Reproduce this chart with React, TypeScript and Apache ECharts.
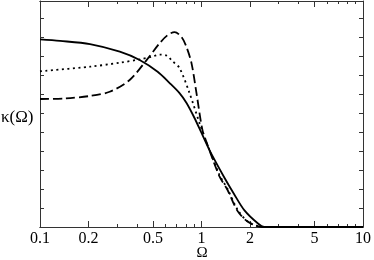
import React, { useEffect, useRef } from "react";
import * as echarts from "echarts";

const tickValues = [0.1, 0.2, 0.5, 1, 2, 5, 10];
const minorTickValues = [0.3, 0.4, 0.6, 0.7, 0.8, 0.9, 3, 4, 6, 7, 8, 9];

const solidOmega = [0.1, 0.133, 0.204, 0.312, 0.414, 0.535, 0.635, 0.731, 0.808, 0.905, 1.0, 1.12, 1.39, 1.59, 1.84, 2.22, 2.45, 3, 5, 10];
const solidKappa = [9.88, 9.8, 9.63, 9.23, 8.79, 8.17, 7.58, 7.05, 6.53, 5.74, 4.95, 4.05, 2.58, 1.74, 0.89, 0.21, 0, 0, 0, 0];

const dashedOmega = [0.1, 0.143, 0.204, 0.27, 0.359, 0.457, 0.551, 0.616, 0.681, 0.753, 0.808, 0.867, 0.931, 1.014, 1.09, 1.29, 1.45, 1.67, 1.92, 2.22, 2.45, 3, 5, 10];
const dashedKappa = [6.74, 6.77, 6.9, 7.12, 7.74, 8.79, 9.68, 10.1, 10.26, 10.0, 9.47, 8.63, 7.05, 5.1, 4.32, 2.68, 1.95, 0.85, 0.3, 0.05, 0, 0, 0, 0];

const dottedOmega = [0.1, 0.204, 0.312, 0.414, 0.499, 0.551, 0.609, 0.663, 0.731, 0.843, 0.972, 1.09, 1.29, 1.45, 1.67, 1.92, 2.22, 2.45, 3, 5, 10];
const dottedKappa = [8.2, 8.44, 8.65, 8.83, 8.98, 9.08, 9.02, 8.72, 8.37, 7.05, 5.47, 4.32, 2.75, 2.0, 0.92, 0.3, 0.05, 0, 0, 0, 0];

const xLabel = "Ω";
const yLabel = "κ(Ω)";

export default function App() {
  const ref = useRef<HTMLDivElement>(null);
  useEffect(() => {
    const chart = echarts.init(ref.current!, null, { renderer: "svg" });
    const lg = (v: number) => Math.log10(v);
    const pts = (xs: number[], ys: number[]) => xs.map((x, i) => [lg(x), ys[i]]);
    const axisColor = "#333";
    const font = "Liberation Serif, serif";
    const fmt = (v: number) => String(Number(Math.pow(10, v).toPrecision(2)));
    const lineStyle = { color: axisColor, width: 1 };
    const xBase: any = {
      type: "value",
      min: -1,
      max: 1,
      splitLine: { show: false },
      axisLabel: { show: false },
      axisLine: { show: true, onZero: false, lineStyle },
    };
    const major = { show: true, inside: true, length: 6, customValues: tickValues.map(lg), lineStyle };
    const minor = { show: true, inside: true, length: 3, customValues: minorTickValues.map(lg), lineStyle };
    const yBase: any = {
      type: "value",
      min: 0,
      max: 11.9,
      interval: 1,
      axisLabel: { show: false },
      splitLine: { show: false },
      axisLine: { show: true, onZero: false, lineStyle },
      axisTick: { show: true, inside: true, length: 4, lineStyle },
    };
    const lineBase: any = {
      type: "line",
      xAxisIndex: 0,
      yAxisIndex: 0,
      showSymbol: false,
      symbol: "none",
      smooth: 0.3,
    };
    chart.setOption({
      animation: false,
      grid: { left: 40, right: 10, top: 1, bottom: 33 },
      xAxis: [
        {
          ...xBase,
          position: "bottom",
          axisLabel: {
            show: true,
            customValues: tickValues.map(lg),
            formatter: (v: number) => fmt(v),
            color: "#000",
            fontFamily: font,
            fontSize: 16,
            lineHeight: 14,
            margin: 3,
          },
          axisTick: major,
        },
        { ...xBase, position: "bottom", axisTick: minor },
        { ...xBase, position: "top", axisTick: major },
        { ...xBase, position: "top", axisTick: minor },
      ],
      yAxis: [
        { ...yBase, position: "left" },
        { ...yBase, position: "right" },
      ],
      graphic: [
        {
          type: "text",
          x: 202,
          y: 252,
          style: {
            text: xLabel,
            font: `15px ${font}`,
            lineHeight: 12,
            fill: "#000",
            align: "center",
            verticalAlign: "middle",
          },
        },
        {
          type: "text",
          x: 1,
          y: 116,
          style: {
            text: yLabel,
            font: `17px ${font}`,
            fill: "#000",
            align: "left",
            verticalAlign: "middle",
          },
        },
      ],
      series: [
        {
          ...lineBase,
          name: "solid",
          data: pts(solidOmega, solidKappa),
          lineStyle: { color: "#000", width: 1.8, type: "solid" },
        },
        {
          ...lineBase,
          name: "dashed",
          data: pts(dashedOmega, dashedKappa),
          lineStyle: { color: "#000", width: 1.8, type: [9, 4] },
        },
        {
          ...lineBase,
          name: "dotted",
          data: pts(dottedOmega, dottedKappa),
          lineStyle: { color: "#000", width: 1.8, type: [2, 3.5] },
        },
      ],
    });
    return () => chart.dispose();
  }, []);
  return <div ref={ref} style={{ position: "fixed", left: 0, top: 0, width: 374, height: 260 }} />;
}
